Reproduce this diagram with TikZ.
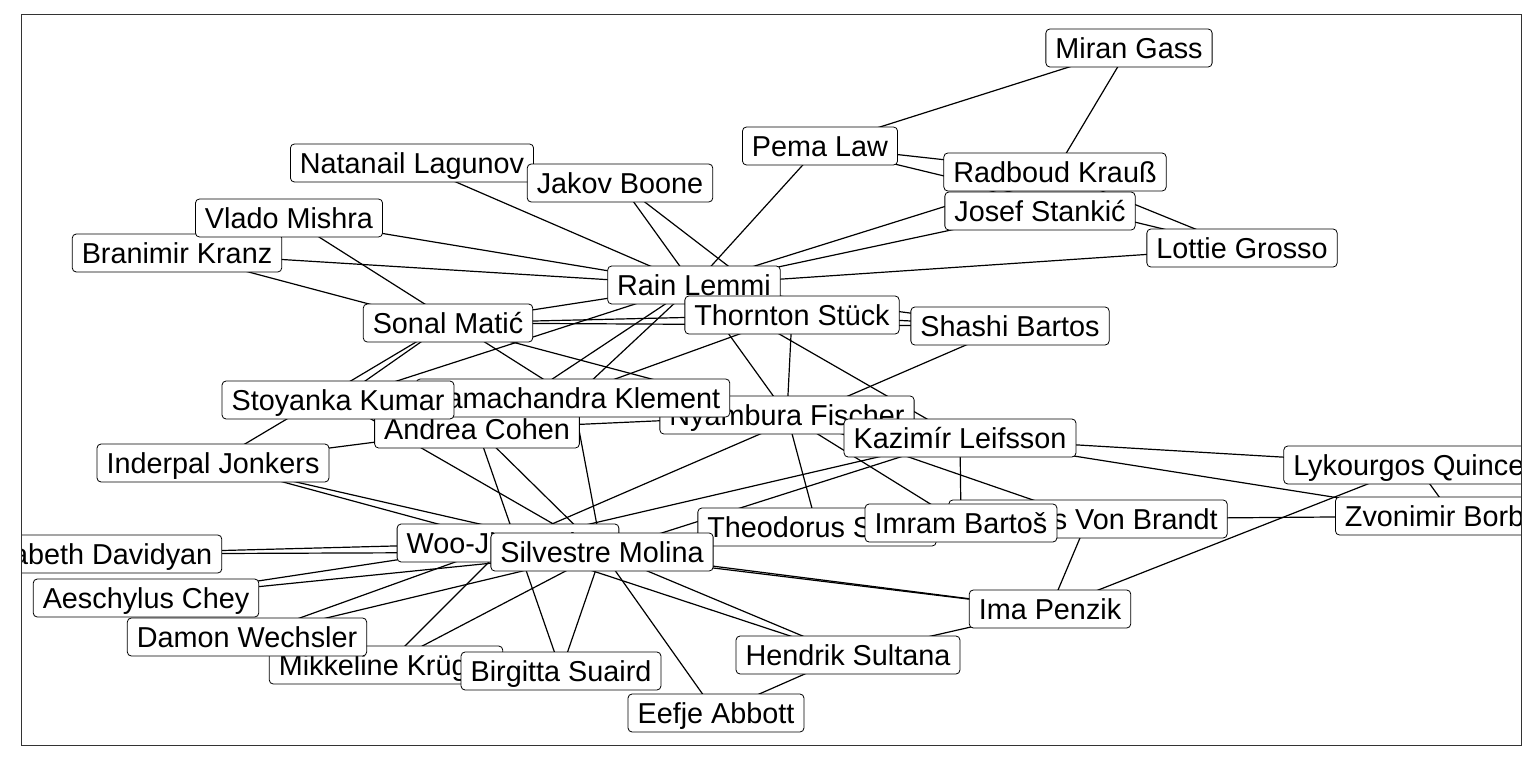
\documentclass[tikz,border=0pt]{standalone}
\usepackage{fontspec}
\setmainfont{Liberation Sans}
\pgfdeclarelayer{bg}
\pgfdeclarelayer{edges}
\pgfsetlayers{bg,edges,main}
\begin{document}
\begin{tikzpicture}[x=1pt,y=-1pt,
  lab/.style={draw=black, line width=0.8pt, fill=white, rounded corners=4pt,
    inner xsep=9.5pt, inner ysep=7pt, text height=22.5pt, text depth=1.5pt,
    font=\fontsize{28.8}{34}\selectfont},
  edge/.style={line width=1.2pt, draw=black},
  panel/.style={draw=black!80, line width=1pt}]
\useasboundingbox (0,0) rectangle (1536,768);
\begin{pgfonlayer}{bg}
\fill[white] (0,0) rectangle (1536,768);
\end{pgfonlayer}
\begin{scope}
\clip (21,15) rectangle (1521,745);
\node[lab] (miran) at (1129,48) {Miran Gass};
\node[lab] (pema) at (820,146) {Pema Law};
\node[lab] (radboud) at (1055,172) {Radboud Krauß};
\node[lab] (josef) at (1040,211) {Josef Stankić};
\node[lab] (lottie) at (1242,248) {Lottie Grosso};
\node[lab] (natanail) at (412,163) {Natanail Lagunov};
\node[lab] (jakov) at (620,183) {Jakov Boone};
\node[lab] (branimir) at (177,253) {Branimir Kranz};
\node[lab] (vlado) at (289,218) {Vlado Mishra};
\node[lab] (rain) at (694,285) {Rain Lemmi};
\node[lab] (thornton) at (792,315) {Thornton Stück};
\node[lab] (shashi) at (1010,326) {Shashi Bartos};
\node[lab] (sonal) at (448,323) {Sonal Matić};
\node[lab] (andrea) at (477,429) {Andrea Cohen};
\node[lab] (nyambura) at (787,415) {Nyambura Fischer};
\node[lab] (rama) at (573,398) {Ramachandra Klement};
\node[lab] (stoyanka) at (338,400) {Stoyanka Kumar};
\node[lab] (kazimir) at (960,438) {Kazimír Leifsson};
\node[lab] (inderpal) at (213,463) {Inderpal Jonkers};
\node[lab] (lykourgos) at (1416,465) {Lykourgos Quincey};
\node[lab] (zvonimir) at (1453,516) {Zvonimir Borbély};
\node[lab] (theodorus) at (817,527) {Theodorus Smith};
\node[lab] (vonbrandt) at (1088,519) {Matthias Von Brandt};
\node[lab] (imram) at (961,523) {Imram Bartoš};
\node[lab] (woo) at (508,543) {Woo-Jin Becker};
\node[lab] (silvestre) at (602,552) {Silvestre Molina};
\node[lab] (davidyan) at (89,554) {Elisabeth Davidyan};
\node[lab] (aeschylus) at (146,598) {Aeschylus Chey};
\node[lab] (mikkeline) at (386,665) {Mikkeline Krüger};
\node[lab] (damon) at (247,637) {Damon Wechsler};
\node[lab] (birgitta) at (561,671) {Birgitta Suaird};
\node[lab] (hendrik) at (848,655) {Hendrik Sultana};
\node[lab] (eefje) at (716,713) {Eefje Abbott};
\node[lab] (ima) at (1050,609) {Ima Penzik};
\end{scope}
\begin{pgfonlayer}{edges}
\foreach \a/\b in {pema/miran, miran/radboud, pema/radboud, pema/lottie,
  radboud/lottie, rain/radboud, rain/josef, rain/lottie, rain/pema,
  natanail/rain, vlado/rain, branimir/rain, vlado/rama, branimir/nyambura,
  jakov/thornton, jakov/nyambura, sonal/rain, sonal/thornton, sonal/shashi,
  rain/shashi, thornton/shashi, stoyanka/rain, rain/andrea, rain/rama,
  thornton/andrea, rain/kazimir, thornton/nyambura, sonal/stoyanka,
  sonal/inderpal, woo/shashi, inderpal/andrea, andrea/nyambura,
  inderpal/woo, inderpal/silvestre, davidyan/woo, davidyan/silvestre,
  aeschylus/woo, aeschylus/silvestre, damon/woo, damon/silvestre,
  mikkeline/woo, mikkeline/silvestre, stoyanka/silvestre, andrea/birgitta,
  andrea/silvestre, rama/silvestre, kazimir/woo, kazimir/silvestre,
  nyambura/theodorus, nyambura/imram, nyambura/vonbrandt, kazimir/imram,
  kazimir/lykourgos, kazimir/zvonimir, vonbrandt/zvonimir, ima/lykourgos,
  lykourgos/zvonimir, vonbrandt/ima, silvestre/ima, woo/ima, ima/hendrik,
  silvestre/birgitta, silvestre/eefje, silvestre/hendrik, woo/hendrik,
  hendrik/eefje, woo/silvestre}
  \draw[edge] (\a.center) -- (\b.center);
\end{pgfonlayer}
\draw[panel] (21,15) rectangle (1521,745);
\end{tikzpicture}
\end{document}
